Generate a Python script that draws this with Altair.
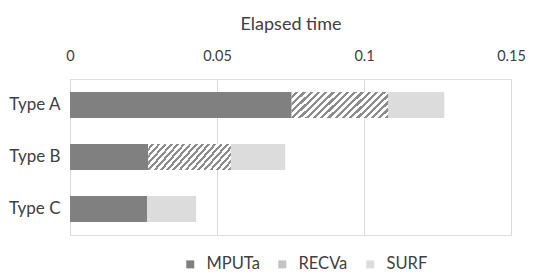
import altair as alt
import pandas as pd

types = ["Type A", "Type B", "Type C"]
series = ["MPUTa", "RECVa", "SURF"]
mputa = [0.0754, 0.0266, 0.0262]
recva = [0.0328, 0.0281, 0.0]
surf = [0.0191, 0.0185, 0.0167]
x_ticks = [0, 0.05, 0.1, 0.15]

rows = []
for i, t in enumerate(types):
    for j, (s, vals) in enumerate(zip(series, [mputa, recva, surf])):
        rows.append({"type": t, "series": s, "order": j, "value": vals[i]})
df = pd.DataFrame(rows)

FONT = "Lato"
TXT = "#404040"

base = alt.Chart(df).transform_stack(
    stack="value", groupby=["type"], as_=["x0", "x1"],
    sort=[alt.SortField("order", "ascending")]
)

x_enc = alt.X(
    "x0:Q",
    scale=alt.Scale(domain=[0, 0.15], nice=False, zero=True),
    axis=alt.Axis(
        orient="top", values=x_ticks, labelExpr="format(datum.value, '~g')",
        title="Elapsed time", labelFlush=False, labelOverlap=False,
        ticks=False, tickSize=0, domain=False, labelPadding=16,
        labelFontSize=14.5, labelFont=FONT, labelColor=TXT,
        titleFont=FONT, titleFontSize=18, titleFontWeight="normal", titleColor=TXT,
        titlePadding=15, grid=True, gridColor="#d9d9d9", gridWidth=1,
    ),
)
y_enc = alt.Y(
    "type:N", sort=types,
    scale=alt.Scale(paddingInner=0.5, paddingOuter=0.25),
    axis=alt.Axis(
        title=None, ticks=False, domain=False, labelPadding=10,
        labelFontSize=17, labelFont=FONT, labelColor=TXT,
    ),
)

bars = base.mark_bar().encode(
    x=x_enc, x2="x1:Q", y=y_enc,
    color=alt.Color(
        "series:N",
        scale=alt.Scale(domain=series, range=["#808080", "#c4c4c4", "#dcdcdc"]),
        legend=alt.Legend(
            title=None, orient="none", direction="horizontal",
            legendX=112, legendY=177, padding=0,
            symbolType="square", symbolSize=64, symbolStrokeWidth=0,
            labelFont=FONT, labelFontSize=16.5, labelColor=TXT,
            labelOffset=8, columnPadding=14,
        ),
    ),
)

# diagonal hatch for RECVa drawn with a hard-stop linear gradient
n = 17
stops = []
for k in range(n):
    a = k / n
    m = (k + 0.55) / n
    b = (k + 1) / n
    stops += [
        alt.GradientStop(offset=a, color="#ffffff"),
        alt.GradientStop(offset=m, color="#ffffff"),
        alt.GradientStop(offset=m, color="#8c8c8c"),
        alt.GradientStop(offset=b, color="#8c8c8c"),
    ]
r = 0.28
gx = (1 + r) / (1 + r * r)
hatch = alt.LinearGradient(gradient="linear", stops=stops, x1=0, y1=0, x2=gx, y2=gx * r)

overlay = base.transform_filter(alt.datum.series == "RECVa").mark_bar(
    fill=hatch
).encode(x=x_enc, x2="x1:Q", y=y_enc)

chart = alt.layer(bars, overlay).properties(
    width=441, height=156,
    autosize="none",
    padding={"left": 62, "top": 71, "right": 14, "bottom": 40},
).configure_view(stroke=None).configure(font=FONT)

chart.save("out.html", embed_options={"renderer": "svg", "actions": False})
